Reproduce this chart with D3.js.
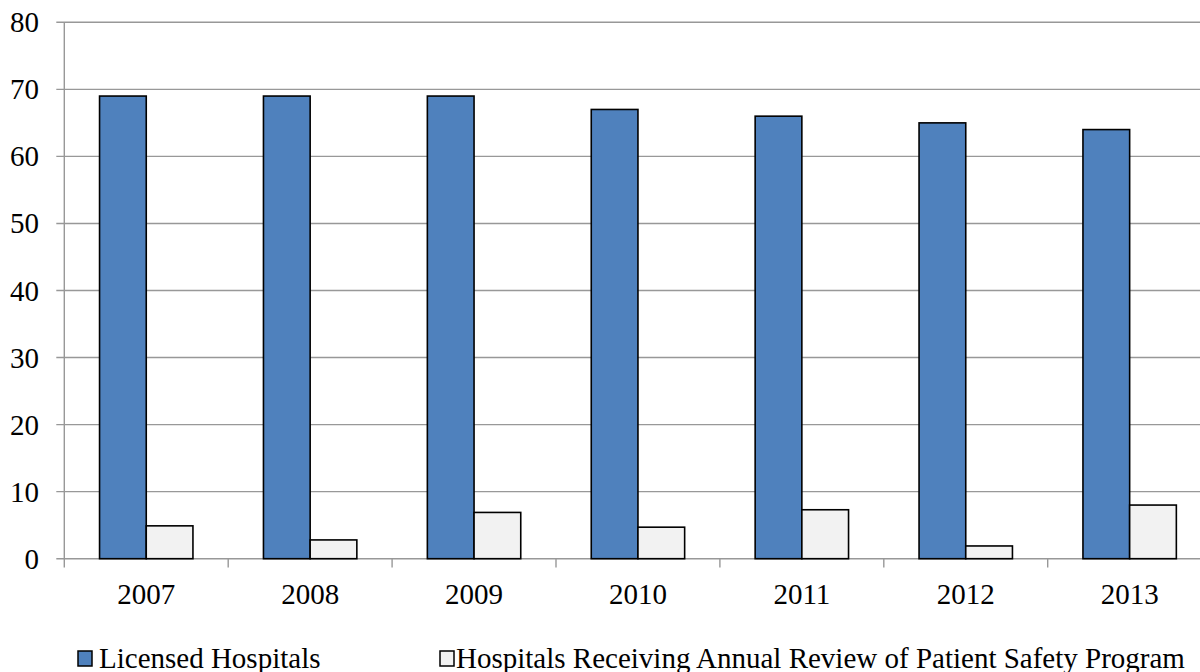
<!DOCTYPE html>
<html>
<head>
<meta charset="utf-8">
<script src="https://cdn.jsdelivr.net/npm/d3@7"></script>
</head>
<body style="margin:0">
<svg id="s" width="1200" height="672"></svg>
<script>
// Hospital counts per year
const years = ["2007", "2008", "2009", "2010", "2011", "2012", "2013"];
const seriesNames = ["Licensed Hospitals", "Hospitals Receiving Annual Review of Patient Safety Program"];
const licensed = [69, 69, 69, 67, 66, 65, 64];
const reviewed = [4.9, 2.8, 6.9, 4.7, 7.3, 1.9, 8.0];
const yTicks = [0, 10, 20, 30, 40, 50, 60, 70, 80];
const colors = ["#4F81BD", "#F2F2F2"];

const serifFace = "'Liberation Serif'";

const svg = d3.select("#s");
const plotLeft = 64.3, plotRight = 1211.6, plotTop = 22.3, plotBottom = 558.7;

const x = d3.scaleBand().domain(years).range([plotLeft, plotRight]).paddingInner(0).paddingOuter(0);
const x1 = d3.scaleBand().domain([0, 1]).range([0, x.bandwidth()]).paddingInner(0).paddingOuter(0.755);
const y = d3.scaleLinear().domain([0, 80]).range([plotBottom, plotTop]);

const gridColor = "#989898";

// horizontal gridlines with short ticks left of the axis
svg.append("g")
  .selectAll("line")
  .data(yTicks)
  .join("line")
  .attr("x1", plotLeft - 8)
  .attr("x2", plotRight)
  .attr("y1", d => y(d))
  .attr("y2", d => y(d))
  .attr("stroke", gridColor)
  .attr("stroke-width", 1.4);

// vertical axis line
svg.append("line")
  .attr("x1", plotLeft).attr("x2", plotLeft)
  .attr("y1", plotTop).attr("y2", plotBottom)
  .attr("stroke", gridColor).attr("stroke-width", 1.4);

// category boundary ticks under the baseline
const boundaries = years.map(d => x(d)).concat([plotRight]);
svg.append("g")
  .selectAll("line")
  .data(boundaries)
  .join("line")
  .attr("x1", d => d).attr("x2", d => d)
  .attr("y1", plotBottom).attr("y2", plotBottom + 8.7)
  .attr("stroke", gridColor).attr("stroke-width", 1.4);

// y tick labels
svg.append("g")
  .selectAll("text")
  .data(yTicks)
  .join("text")
  .attr("x", 39)
  .attr("y", d => y(d) + 10)
  .attr("text-anchor", "end")
  .attr("font-size", 29)
  .style("font-family", () => serifFace)
  .text(d => d);

// bars
const data = years.map((yr, i) => ({ year: yr, values: [licensed[i], reviewed[i]] }));
const groups = svg.append("g")
  .selectAll("g")
  .data(data)
  .join("g")
  .attr("transform", d => `translate(${x(d.year)},0)`);

groups.selectAll("rect")
  .data(d => d.values.map((v, k) => ({ k, v })))
  .join("rect")
  .attr("x", d => x1(d.k))
  .attr("width", x1.bandwidth())
  .attr("y", d => y(d.v))
  .attr("height", d => y(0) - y(d.v))
  .attr("fill", d => colors[d.k])
  .attr("stroke", "#000")
  .attr("stroke-width", 1.6);

// x labels
svg.append("g")
  .selectAll("text")
  .data(years)
  .join("text")
  .attr("x", d => x(d) + x.bandwidth() / 2)
  .attr("y", 604)
  .attr("text-anchor", "middle")
  .attr("font-size", 29)
  .style("font-family", () => serifFace)
  .text(d => d);

// legend
const legendItems = [
  { name: seriesNames[0], color: colors[0], sx: 78, tx: 99 },
  { name: seriesNames[1], color: colors[1], sx: 440, tx: 456 }
];
const lg = svg.append("g")
  .selectAll("g")
  .data(legendItems)
  .join("g");
lg.append("rect")
  .attr("x", d => d.sx)
  .attr("y", 651)
  .attr("width", 14)
  .attr("height", 15)
  .attr("fill", d => d.color)
  .attr("stroke", "#000")
  .attr("stroke-width", 1.5);
lg.append("text")
  .attr("x", d => d.tx)
  .attr("y", 667.5)
  .attr("font-size", 29)
  .style("font-family", () => serifFace)
  .text(d => d.name);
</script>
</body>
</html>
